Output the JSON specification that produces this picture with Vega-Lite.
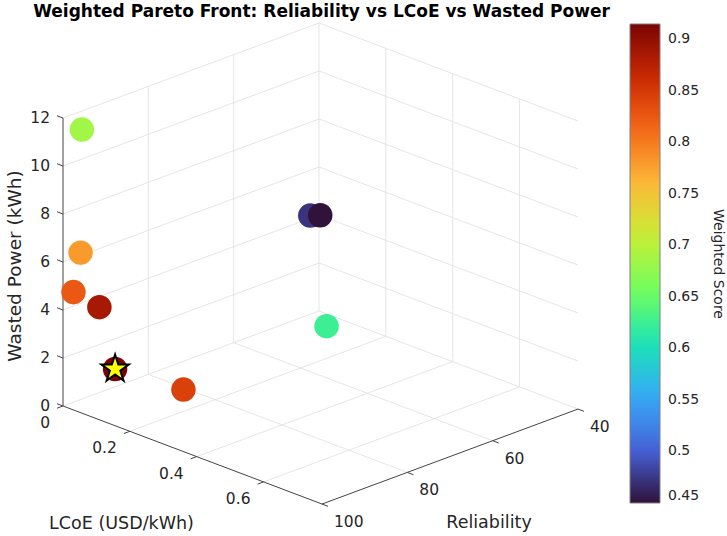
{
  "$schema": "https://vega.github.io/schema/vega-lite/v6.json",
  "width": 727,
  "height": 514,
  "autosize": {"type": "none"},
  "padding": {"left": 0, "right": 0, "top": 22, "bottom": 0},
  "background": "white",
  "config": {"view": {"stroke": null}},
  "title": {"text": "Weighted Pareto Front: Reliability vs LCoE vs Wasted Power", "font": "DejaVu Sans", "fontSize": 17, "fontWeight": "bold", "color": "#000000", "anchor": "middle", "frame": "group", "dx": -42, "offset": 1},
  "datasets": {
    "points": [
      {"id": 1, "lcoe": 0.031, "rel": 98.0, "wasted": 11.55, "score": 0.685, "best": false},
      {"id": 2, "lcoe": 0.027, "rel": 98.0, "wasted": 6.4, "score": 0.78, "best": false},
      {"id": 3, "lcoe": 0.016, "rel": 98.8, "wasted": 4.75, "score": 0.825, "best": false},
      {"id": 4, "lcoe": 0.054, "rel": 95.7, "wasted": 4.12, "score": 0.885, "best": false},
      {"id": 5, "lcoe": 0.078, "rel": 93.9, "wasted": 1.55, "score": 0.915, "best": true},
      {"id": 6, "lcoe": 0.271, "rel": 93.0, "wasted": 1.65, "score": 0.845, "best": false},
      {"id": 7, "lcoe": 0.016, "rel": 43.3, "wasted": 4.28, "score": 0.472, "best": false},
      {"id": 8, "lcoe": 0.019, "rel": 41.2, "wasted": 4.17, "score": 0.45, "best": false},
      {"id": 9, "lcoe": 0.089, "rel": 45.2, "wasted": 0.18, "score": 0.625, "best": false}
    ],
    "grid": [
      {"la": 0.2, "ra": 100, "wa": 0, "lb": 0.2, "rb": 40, "wb": 0},
      {"la": 0.4, "ra": 100, "wa": 0, "lb": 0.4, "rb": 40, "wb": 0},
      {"la": 0.6, "ra": 100, "wa": 0, "lb": 0.6, "rb": 40, "wb": 0},
      {"la": 0, "ra": 100, "wa": 0, "lb": 0, "rb": 40, "wb": 0},
      {"la": 0, "ra": 80, "wa": 0, "lb": 0.775, "rb": 80, "wb": 0},
      {"la": 0, "ra": 60, "wa": 0, "lb": 0.775, "rb": 60, "wb": 0},
      {"la": 0, "ra": 40, "wa": 0, "lb": 0.775, "rb": 40, "wb": 0},
      {"la": 0, "ra": 100, "wa": 2, "lb": 0, "rb": 40, "wb": 2},
      {"la": 0, "ra": 100, "wa": 4, "lb": 0, "rb": 40, "wb": 4},
      {"la": 0, "ra": 100, "wa": 6, "lb": 0, "rb": 40, "wb": 6},
      {"la": 0, "ra": 100, "wa": 8, "lb": 0, "rb": 40, "wb": 8},
      {"la": 0, "ra": 100, "wa": 10, "lb": 0, "rb": 40, "wb": 10},
      {"la": 0, "ra": 100, "wa": 12, "lb": 0, "rb": 40, "wb": 12},
      {"la": 0, "ra": 80, "wa": 0, "lb": 0, "rb": 80, "wb": 12},
      {"la": 0, "ra": 60, "wa": 0, "lb": 0, "rb": 60, "wb": 12},
      {"la": 0, "ra": 40, "wa": 0, "lb": 0, "rb": 40, "wb": 12},
      {"la": 0, "ra": 40, "wa": 2, "lb": 0.775, "rb": 40, "wb": 2},
      {"la": 0, "ra": 40, "wa": 4, "lb": 0.775, "rb": 40, "wb": 4},
      {"la": 0, "ra": 40, "wa": 6, "lb": 0.775, "rb": 40, "wb": 6},
      {"la": 0, "ra": 40, "wa": 8, "lb": 0.775, "rb": 40, "wb": 8},
      {"la": 0, "ra": 40, "wa": 10, "lb": 0.775, "rb": 40, "wb": 10},
      {"la": 0, "ra": 40, "wa": 12, "lb": 0.775, "rb": 40, "wb": 12},
      {"la": 0.2, "ra": 40, "wa": 0, "lb": 0.2, "rb": 40, "wb": 12},
      {"la": 0.4, "ra": 40, "wa": 0, "lb": 0.4, "rb": 40, "wb": 12},
      {"la": 0.6, "ra": 40, "wa": 0, "lb": 0.6, "rb": 40, "wb": 12}
    ],
    "axes": [
      {"la": 0, "ra": 100, "wa": 0, "lb": 0, "rb": 100, "wb": 12},
      {"la": 0, "ra": 100, "wa": 0, "lb": 0.775, "rb": 100, "wb": 0},
      {"la": 0.775, "ra": 100, "wa": 0, "lb": 0.775, "rb": 40, "wb": 0},
      {"la": 0, "ra": 100, "wa": 0, "lb": -0.018, "rb": 100, "wb": 0},
      {"la": 0, "ra": 100, "wa": 2, "lb": -0.018, "rb": 100, "wb": 2},
      {"la": 0, "ra": 100, "wa": 4, "lb": -0.018, "rb": 100, "wb": 4},
      {"la": 0, "ra": 100, "wa": 6, "lb": -0.018, "rb": 100, "wb": 6},
      {"la": 0, "ra": 100, "wa": 8, "lb": -0.018, "rb": 100, "wb": 8},
      {"la": 0, "ra": 100, "wa": 10, "lb": -0.018, "rb": 100, "wb": 10},
      {"la": 0, "ra": 100, "wa": 12, "lb": -0.018, "rb": 100, "wb": 12},
      {"la": 0, "ra": 100, "wa": 0, "lb": 0, "rb": 101.4, "wb": 0},
      {"la": 0.2, "ra": 100, "wa": 0, "lb": 0.2, "rb": 101.4, "wb": 0},
      {"la": 0.4, "ra": 100, "wa": 0, "lb": 0.4, "rb": 101.4, "wb": 0},
      {"la": 0.6, "ra": 100, "wa": 0, "lb": 0.6, "rb": 101.4, "wb": 0},
      {"la": 0.775, "ra": 100, "wa": 0, "lb": 0.793, "rb": 100, "wb": 0},
      {"la": 0.775, "ra": 80, "wa": 0, "lb": 0.793, "rb": 80, "wb": 0},
      {"la": 0.775, "ra": 60, "wa": 0, "lb": 0.793, "rb": 60, "wb": 0},
      {"la": 0.775, "ra": 40, "wa": 0, "lb": 0.793, "rb": 40, "wb": 0}
    ],
    "zlabels": [
      {"la": 0, "ra": 100, "wa": 0, "label": "0"},
      {"la": 0, "ra": 100, "wa": 2, "label": "2"},
      {"la": 0, "ra": 100, "wa": 4, "label": "4"},
      {"la": 0, "ra": 100, "wa": 6, "label": "6"},
      {"la": 0, "ra": 100, "wa": 8, "label": "8"},
      {"la": 0, "ra": 100, "wa": 10, "label": "10"},
      {"la": 0, "ra": 100, "wa": 12, "label": "12"}
    ],
    "xlabels": [
      {"la": 0, "ra": 100, "wa": 0, "label": "0"},
      {"la": 0.2, "ra": 100, "wa": 0, "label": "0.2"},
      {"la": 0.4, "ra": 100, "wa": 0, "label": "0.4"},
      {"la": 0.6, "ra": 100, "wa": 0, "label": "0.6"}
    ],
    "ylabels": [
      {"la": 0.775, "ra": 100, "wa": 0, "label": "100"},
      {"la": 0.775, "ra": 80, "wa": 0, "label": "80"},
      {"la": 0.775, "ra": 60, "wa": 0, "label": "60"},
      {"la": 0.775, "ra": 40, "wa": 0, "label": "40"}
    ]
  },
  "layer": [
    {
      "data": {"name": "grid"},
      "transform": [
        {"calculate": "334.2*datum.la + 4.2667*(100-datum.ra)", "as": "px"},
        {"calculate": "24*datum.wa - 126.5*datum.la + 1.583*(100-datum.ra)", "as": "py"},
        {"calculate": "334.2*datum.lb + 4.2667*(100-datum.rb)", "as": "px2"},
        {"calculate": "24*datum.wb - 126.5*datum.lb + 1.583*(100-datum.rb)", "as": "py2"}
      ],
      "mark": {"type": "rule", "color": "#dedede", "strokeWidth": 0.8},
      "encoding": {
        "x": {"field": "px", "type": "quantitative", "scale": {"domain": [-63, 664], "nice": false, "zero": false}, "axis": null},
        "y": {"field": "py", "type": "quantitative", "scale": {"domain": [-130, 384], "nice": false, "zero": false}, "axis": null},
        "x2": {"field": "px2"},
        "y2": {"field": "py2"}
      }
    },
    {
      "data": {"name": "axes"},
      "transform": [
        {"calculate": "334.2*datum.la + 4.2667*(100-datum.ra)", "as": "px"},
        {"calculate": "24*datum.wa - 126.5*datum.la + 1.583*(100-datum.ra)", "as": "py"},
        {"calculate": "334.2*datum.lb + 4.2667*(100-datum.rb)", "as": "px2"},
        {"calculate": "24*datum.wb - 126.5*datum.lb + 1.583*(100-datum.rb)", "as": "py2"}
      ],
      "mark": {"type": "rule", "color": "#444444", "strokeWidth": 1},
      "encoding": {
        "x": {"field": "px", "type": "quantitative", "scale": {"domain": [-63, 664], "nice": false, "zero": false}, "axis": null},
        "y": {"field": "py", "type": "quantitative", "scale": {"domain": [-130, 384], "nice": false, "zero": false}, "axis": null},
        "x2": {"field": "px2"},
        "y2": {"field": "py2"}
      }
    },
    {
      "data": {"name": "zlabels"},
      "transform": [
        {"calculate": "334.2*datum.la + 4.2667*(100-datum.ra)", "as": "px"},
        {"calculate": "24*datum.wa - 126.5*datum.la + 1.583*(100-datum.ra)", "as": "py"}
      ],
      "mark": {"type": "text", "font": "DejaVu Sans", "fontSize": 15.5, "color": "#262626", "align": "right", "baseline": "middle", "dx": -13},
      "encoding": {
        "x": {"field": "px", "type": "quantitative", "scale": {"domain": [-63, 664], "nice": false, "zero": false}, "axis": null},
        "y": {"field": "py", "type": "quantitative", "scale": {"domain": [-130, 384], "nice": false, "zero": false}, "axis": null},
        "text": {"field": "label"}
      }
    },
    {
      "data": {"name": "xlabels"},
      "transform": [
        {"calculate": "334.2*datum.la + 4.2667*(100-datum.ra)", "as": "px"},
        {"calculate": "24*datum.wa - 126.5*datum.la + 1.583*(100-datum.ra)", "as": "py"}
      ],
      "mark": {"type": "text", "font": "DejaVu Sans", "fontSize": 15.5, "color": "#262626", "align": "right", "baseline": "middle", "dx": -13, "dy": 17},
      "encoding": {
        "x": {"field": "px", "type": "quantitative", "scale": {"domain": [-63, 664], "nice": false, "zero": false}, "axis": null},
        "y": {"field": "py", "type": "quantitative", "scale": {"domain": [-130, 384], "nice": false, "zero": false}, "axis": null},
        "text": {"field": "label"}
      }
    },
    {
      "data": {"name": "ylabels"},
      "transform": [
        {"calculate": "334.2*datum.la + 4.2667*(100-datum.ra)", "as": "px"},
        {"calculate": "24*datum.wa - 126.5*datum.la + 1.583*(100-datum.ra)", "as": "py"}
      ],
      "mark": {"type": "text", "font": "DejaVu Sans", "fontSize": 15.5, "color": "#262626", "align": "left", "baseline": "middle", "dx": 12, "dy": 18},
      "encoding": {
        "x": {"field": "px", "type": "quantitative", "scale": {"domain": [-63, 664], "nice": false, "zero": false}, "axis": null},
        "y": {"field": "py", "type": "quantitative", "scale": {"domain": [-130, 384], "nice": false, "zero": false}, "axis": null},
        "text": {"field": "label"}
      }
    },
    {
      "data": {"values": [{"la": 0.3875, "ra": 100, "wa": 0, "label": "LCoE (USD/kWh)"}]},
      "transform": [
        {"calculate": "334.2*datum.la + 4.2667*(100-datum.ra)", "as": "px"},
        {"calculate": "24*datum.wa - 126.5*datum.la + 1.583*(100-datum.ra)", "as": "py"}
      ],
      "mark": {"type": "text", "font": "DejaVu Sans", "fontSize": 17.5, "color": "#262626", "align": "center", "baseline": "middle", "dx": -71, "dy": 69},
      "encoding": {
        "x": {"field": "px", "type": "quantitative", "scale": {"domain": [-63, 664], "nice": false, "zero": false}, "axis": null},
        "y": {"field": "py", "type": "quantitative", "scale": {"domain": [-130, 384], "nice": false, "zero": false}, "axis": null},
        "text": {"field": "label"}
      }
    },
    {
      "data": {"values": [{"la": 0.775, "ra": 70, "wa": 0, "label": "Reliability"}]},
      "transform": [
        {"calculate": "334.2*datum.la + 4.2667*(100-datum.ra)", "as": "px"},
        {"calculate": "24*datum.wa - 126.5*datum.la + 1.583*(100-datum.ra)", "as": "py"}
      ],
      "mark": {"type": "text", "font": "DejaVu Sans", "fontSize": 17.5, "color": "#262626", "align": "center", "baseline": "middle", "dx": 39, "dy": 66},
      "encoding": {
        "x": {"field": "px", "type": "quantitative", "scale": {"domain": [-63, 664], "nice": false, "zero": false}, "axis": null},
        "y": {"field": "py", "type": "quantitative", "scale": {"domain": [-130, 384], "nice": false, "zero": false}, "axis": null},
        "text": {"field": "label"}
      }
    },
    {
      "data": {"values": [{"la": 0, "ra": 100, "wa": 6, "label": "Wasted Power (kWh)"}]},
      "transform": [
        {"calculate": "334.2*datum.la + 4.2667*(100-datum.ra)", "as": "px"},
        {"calculate": "24*datum.wa - 126.5*datum.la + 1.583*(100-datum.ra)", "as": "py"}
      ],
      "mark": {"type": "text", "font": "DejaVu Sans", "fontSize": 18.5, "color": "#262626", "align": "center", "baseline": "middle", "angle": 270, "dx": -4, "dy": -48},
      "encoding": {
        "x": {"field": "px", "type": "quantitative", "scale": {"domain": [-63, 664], "nice": false, "zero": false}, "axis": null},
        "y": {"field": "py", "type": "quantitative", "scale": {"domain": [-130, 384], "nice": false, "zero": false}, "axis": null},
        "text": {"field": "label"}
      }
    },
    {
      "data": {"name": "points"},
      "transform": [
        {"calculate": "334.2*datum.lcoe + 4.2667*(100-datum.rel)", "as": "px"},
        {"calculate": "24*datum.wasted - 126.5*datum.lcoe + 1.583*(100-datum.rel)", "as": "py"}
      ],
      "mark": {"type": "circle", "size": 600, "opacity": 1},
      "encoding": {
        "x": {"field": "px", "type": "quantitative", "scale": {"domain": [-63, 664], "nice": false, "zero": false}, "axis": null},
        "y": {"field": "py", "type": "quantitative", "scale": {"domain": [-130, 384], "nice": false, "zero": false}, "axis": null},
        "order": {"field": "id", "type": "quantitative"},
        "color": {
          "field": "score", "type": "quantitative",
          "scale": {
            "domain": [0.45, 0.50167, 0.55333, 0.605, 0.65667, 0.70833, 0.76, 0.81167, 0.86333, 0.915],
            "range": ["#30123b", "#4662d7", "#36aaf9", "#1ae4b6", "#72fe5e", "#c7ef34", "#fbb938", "#f56918", "#c92903", "#7a0403"],
            "interpolate": "rgb"
          },
          "legend": {
            "title": "Weighted Score", "orient": "none", "legendX": 630, "legendY": 2, "direction": "vertical",
            "gradientLength": 479, "gradientThickness": 30,
            "values": [0.45, 0.5, 0.55, 0.6, 0.65, 0.7, 0.75, 0.8, 0.85, 0.9],
            "format": "~g",
            "labelFont": "DejaVu Sans", "labelFontSize": 14, "labelColor": "#262626", "labelOffset": 8, "labelOverlap": false, "labelBaseline": "middle",
            "titleOrient": "right", "titleAngle": -90, "titleFont": "DejaVu Sans", "titleFontSize": 14, "titleFontWeight": "normal", "titleColor": "#262626", "titleAnchor": "middle", "titlePadding": 12,
            "gradientStrokeColor": "#808080", "gradientStrokeWidth": 1, "padding": 0,
            "encode": {"title": {"enter": {"angle": {"value": -90}, "baseline": {"value": "top"}}, "update": {"angle": {"value": -90}, "baseline": {"value": "top"}}}}
          }
        }
      }
    },
    {
      "data": {"name": "points"},
      "transform": [
        {"filter": "datum.best"},
        {"calculate": "334.2*datum.lcoe + 4.2667*(100-datum.rel)", "as": "px"},
        {"calculate": "24*datum.wasted - 126.5*datum.lcoe + 1.583*(100-datum.rel)", "as": "py"}
      ],
      "mark": {"type": "point", "shape": "M0,-1L0.2245,-0.309L0.951,-0.309L0.3633,0.118L0.5878,0.809L0,0.382L-0.5878,0.809L-0.3633,0.118L-0.951,-0.309L-0.2245,-0.309Z", "size": 830, "filled": true, "fill": "#ffff00", "stroke": "#000000", "strokeWidth": 2, "opacity": 1},
      "encoding": {
        "x": {"field": "px", "type": "quantitative", "scale": {"domain": [-63, 664], "nice": false, "zero": false}, "axis": null},
        "y": {"field": "py", "type": "quantitative", "scale": {"domain": [-130, 384], "nice": false, "zero": false}, "axis": null}
      }
    }
  ]
}
